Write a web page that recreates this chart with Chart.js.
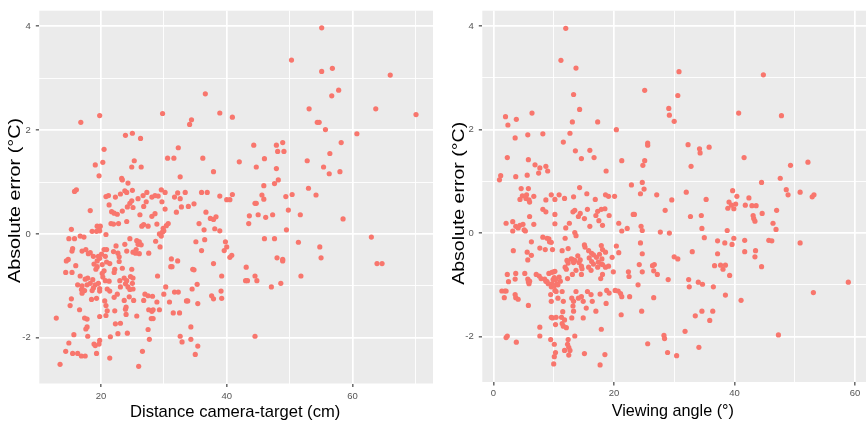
<!DOCTYPE html>
<html><head><meta charset="utf-8">
<script src="https://cdn.jsdelivr.net/npm/chart.js@4.4.1/dist/chart.umd.min.js"></script>
<style>
html,body{margin:0;padding:0;background:#fff;overflow:hidden;width:866px;height:423px;}
canvas{position:absolute;top:0;}
</style></head><body>
<canvas id="left" width="437" height="423" style="left:0"></canvas>
<canvas id="right" width="432" height="423" style="left:437px"></canvas>
<script>
// Left panel: [distance camera-target (cm), absolute error (°C)]
const distanceVsError = [
[16.8,2.15],[19.8,2.28],[20.5,1.63],[19.1,1.33],[20.3,1.38],[19.7,1.12],[23.9,1.90],[25.0,1.94],[26.3,1.84],[25.3,1.41],[24.9,1.29],[26.4,1.29],[23.3,1.07],[23.4,1.04],[24.3,0.98],[29.8,2.32],[30.6,1.46],[31.6,1.46],[32.3,1.66],[32.6,1.10],[34.1,2.11],[34.4,2.20],[36.6,2.70],[36.2,1.46],[37.9,1.20],[38.9,2.33],[40.9,2.25],[42.0,1.39],[15.8,0.82],[16.1,0.85],[23.8,0.83],[25.0,0.84],[29.6,0.85],
[55.1,3.97],[50.3,3.35],[55.1,3.13],[56.8,3.19],[66.0,3.06],[57.8,2.77],[56.7,2.66],[53.1,2.41],[63.7,2.41],[70.1,2.30],[54.4,2.15],[54.7,2.15],[55.7,2.01],[60.7,1.93],[44.3,1.71],[47.9,1.71],[48.9,1.76],[48.1,1.59],[49.1,1.59],[58.2,1.76],[56.4,1.55],[46.0,1.45],[44.7,1.29],[47.9,1.26],[52.8,1.41],[55.4,1.29],[56.3,1.16],[58.0,1.20],[45.9,0.93],[47.6,0.97],[48.2,1.04],[53.0,0.88],[45.6,0.75],[45.9,0.67],[49.4,0.72],[50.4,0.76],[54.2,0.75],
[40.9,0.76],[40.5,0.66],[44.5,0.59],[44.7,0.59],[43.6,0.35],[45.0,0.37],[46.2,0.32],[47.3,0.37],[49.8,0.46],[51.7,0.37],[43.5,0.20],[58.5,0.29],[49.5,0.08],[46.0,-0.09],[47.6,-0.09],[51.4,-0.16],[63.0,-0.06],[54.8,-0.25],[55.0,-0.46],[40.8,-0.41],[40.5,-0.45],[48.0,-0.46],[48.9,-0.49],[48.9,-0.52],[43.1,-0.64],[63.9,-0.57],[64.7,-0.57],[44.5,-0.81],[43.0,-0.90],[43.3,-0.90],[44.8,-0.90],[51.8,-0.81],[47.1,-1.02],[48.6,-0.95],[44.5,-1.97],
[20.8,0.72],[21.2,0.74],[22.3,0.71],[23.1,0.77],[24.1,0.80],[24.9,0.64],[25.9,0.68],[26.7,0.74],[27.3,0.80],[28.1,0.71],[28.6,0.74],[29.1,0.73],[29.7,0.62],[30.2,0.80],[31.7,0.71],[32.6,0.68],[32.2,0.79],[33.4,0.80],[36.0,0.80],[36.9,0.80],[38.9,0.73],[40.0,0.66],
[18.3,0.45],[21.3,0.56],[21.7,0.43],[22.1,0.40],[22.6,0.38],[23.4,0.44],[24.2,0.52],[24.6,0.59],[25.1,0.51],[26.2,0.37],[26.8,0.53],[27.2,0.62],[28.1,0.34],[28.6,0.39],[30.2,0.48],[32.0,0.42],[32.8,0.52],[33.9,0.53],[34.8,0.58],[36.7,0.42],[37.4,0.30],[37.9,0.28],[38.3,0.33],[21.6,0.20],[22.0,0.19],[22.8,0.20],[24.1,0.24],[26.5,0.15],[26.8,0.18],[27.5,0.15],[28.9,0.19],[29.9,0.11],[30.4,0.16],[30.7,0.20],[35.6,0.20],[36.4,0.08],[38.1,0.10],[38.9,0.06],
[15.3,0.09],[19.4,0.15],[19.3,0.05],[19.7,0.11],[19.9,0.15],[19.8,0.06],[20.8,-0.01],[18.6,0.05],[17.3,-0.06],[16.7,-0.04],[15.8,-0.09],[14.9,-0.09],[24.6,-0.09],[25.7,-0.13],[26.1,-0.15],[25.9,-0.20],[26.4,-0.21],[29.3,0.0],[29.6,-0.04],[29.8,0.04],[30.0,0.06],[35.1,-0.15],[36.5,-0.11],[39.8,-0.15],[40.0,-0.25],[39.6,-0.32],[36.0,-0.32],[37.9,-0.57],[39.2,-0.81],[34.6,-0.68],
[15.5,-0.28],[15.4,-0.33],[14.8,-0.49],[14.5,-0.52],[14.4,-0.74],[16.0,-0.61],[17.0,-0.33],[17.6,-0.30],[18.3,-0.36],[18.0,-0.38],[18.8,-0.43],[18.9,-0.58],[19.2,-0.68],[19.4,-0.52],[19.6,-0.43],[19.8,-0.47],[20.1,-0.39],[20.5,-0.30],[20.9,-0.30],[20.7,-0.43],[20.2,-0.59],[19.4,-0.63],[20.5,-0.71],[20.9,-0.54],[21.4,-0.57],[22.0,-0.34],[22.7,-0.37],[22.4,-0.23],[22.9,-0.44],[22.9,-0.53],[23.8,-0.20],[24.1,-0.33],[23.4,-0.66],[22.2,-0.68],[22.1,-0.74],[24.9,-0.68],[25.1,-0.35],[25.6,-0.30],[25.5,-0.37],[26.1,-0.38],[27.6,-0.37],[28.7,-0.14],[29.4,-0.25],[31.2,-0.48],[31.1,-0.63],[31.3,-0.63],[32.2,-0.52],[34.8,-0.69],
[15.4,-0.74],[16.7,-0.81],[16.3,-0.98],[16.9,-1.07],[17.0,-1.00],[17.5,-0.87],[17.8,-0.98],[17.9,-0.85],[18.3,-0.95],[18.7,-0.88],[18.8,-1.04],[19.1,-0.98],[19.6,-0.95],[19.8,-1.05],[20.2,-0.76],[20.3,-0.83],[19.8,-1.10],[19.3,-1.24],[18.5,-1.26],[18.6,-1.09],[17.4,-1.09],[17.0,-1.14],[15.3,-1.25],[15.1,-1.38],[20.7,-0.90],[21.3,-0.91],[21.0,-1.06],[21.4,-1.10],[20.6,-1.29],[20.8,-1.38],[22.1,-1.22],[22.6,-1.16],[23.0,-0.90],[23.1,-1.02],[23.7,-0.85],[23.9,-0.96],[24.1,-0.90],[24.3,-1.02],[24.6,-1.07],[25.0,-0.95],[25.1,-1.06],[24.7,-0.82],[25.1,-0.85],[24.5,-1.21],[25.2,-1.28],[26.8,-1.28],[27.0,-1.16],[27.5,-1.19],[28.2,-1.20],[27.6,-1.46],[28.1,-1.49],[28.9,-1.31],[29.0,-0.81],[30.0,-1.16],[30.3,-1.02],[30.9,-1.31],[31.7,-1.12],[32.3,-1.12],[33.6,-1.29],[33.8,-1.29],[34.5,-1.06],[35.3,-0.97],[37.6,-1.19],[37.9,-1.25],[39.1,-1.10],[39.2,-1.24],[23.9,-1.45],
[12.9,-1.62],[13.5,-2.51],[14.4,-2.26],[14.9,-2.10],[15.5,-2.30],[15.7,-1.94],[16.6,-1.46],[16.3,-2.30],[16.9,-2.35],[17.5,-2.35],[17.4,-1.62],[17.8,-1.64],[17.6,-1.83],[17.8,-1.79],[17.9,-1.97],[18.9,-2.12],[19.3,-2.30],[19.1,-2.15],[19.7,-2.12],[19.8,-2.05],[19.8,-1.59],[20.8,-1.57],[21.0,-1.48],[21.4,-2.39],[21.5,-1.98],[22.2,-1.48],[22.3,-1.73],[22.7,-1.92],[23.1,-1.72],[23.7,-1.28],[24.0,-1.41],[24.0,-1.55],[24.2,-1.91],[25.7,-1.58],[26.0,-2.55],[26.6,-2.26],[27.5,-1.84],[27.7,-2.03],[28.0,-1.63],[28.3,-1.63],[28.3,-1.46],[29.3,-1.46],[31.5,-1.52],[32.5,-1.52],[32.6,-1.97],[32.9,-2.08],[34.3,-1.79],[34.3,-2.03],[35.0,-2.32],[35.4,-2.16],[35.4,-1.34]
];

// Right panel: [viewing angle (°), absolute error (°C)]
const angleVsError = [
[12.0,3.96],[11.2,3.34],[13.7,3.19],[13.3,2.68],[14.3,2.39],[13.1,2.15],[17.3,2.15],[2.0,2.25],[3.8,2.20],[2.4,2.09],[6.4,2.32],[8.2,1.92],[12.7,1.93],[11.6,1.76],[3.6,1.84],[5.7,1.90],[20.4,2.00],[13.6,1.59],[16.0,1.60],[14.6,1.44],[16.7,1.46],[2.3,1.46],[5.8,1.42],[6.9,1.32],[7.7,1.26],[8.7,1.29],[9.0,1.20],[7.5,1.16],[21.3,1.40],[18.7,1.20],[25.1,2.76],[25.6,1.74],[25.6,1.70],[25.1,1.40],[24.8,1.31],[1.2,1.11],[1.0,1.03],[3.7,1.09],[5.6,1.12],[4.6,0.86],[5.8,0.86],[14.3,0.88],[24.7,0.98],[22.9,0.93],[25.0,0.85],
[30.8,3.12],[44.8,3.06],[30.6,2.66],[29.1,2.41],[29.2,2.28],[30.0,2.16],[40.7,2.32],[47.8,2.27],[32.3,1.71],[34.2,1.63],[34.3,1.55],[35.8,1.66],[32.8,1.29],[41.6,1.46],[49.3,1.31],[52.2,1.37],[47.6,1.06],[44.5,0.98],[48.6,0.84],[48.9,0.74],[50.9,0.79],[24.4,0.76],[27.1,0.74],[32.0,0.79],[39.7,0.82],[40.4,0.71],[42.4,0.68],[35.3,0.65],[29.6,0.64],
[4.4,0.65],[4.8,0.72],[5.5,0.74],[5.4,0.67],[5.9,0.64],[6.0,0.60],[6.7,0.71],[8.7,0.64],[9.6,0.74],[10.2,0.65],[10.9,0.74],[11.8,0.67],[13.3,0.70],[15.5,0.76],[16.9,0.65],[18.6,0.74],[19.1,0.71],[20.1,0.71],
[6.0,0.32],[8.2,0.46],[8.7,0.41],[10.2,0.36],[13.2,0.41],[13.5,0.44],[14.4,0.38],[15.6,0.46],[15.1,0.28],[14.1,0.32],[17.0,0.34],[17.3,0.42],[17.9,0.46],[18.5,0.47],[17.5,0.24],[16.0,0.13],[18.1,0.15],[19.2,0.34],[3.2,0.22],[2.1,0.19],[3.7,0.13],[4.4,0.15],[4.1,0.10],[4.9,0.17],[5.1,0.06],[3.2,0.04],[5.3,0.04],[6.7,0.17],[10.2,0.18],[12.6,0.19],[13.5,0.01],[12.0,0.10],[20.8,0.19],[21.3,0.04],[22.2,0.09],[23.2,0.36],[23.4,0.36],
[13.7,-0.05],[6.3,-0.17],[8.2,-0.08],[8.9,-0.10],[9.2,-0.11],[9.3,-0.17],[9.6,-0.18],[8.6,-0.32],[7.7,-0.29],[9.8,-0.32],[11.4,-0.34],[11.9,-0.10],[12.4,-0.30],[15.1,-0.23],[15.2,-0.27],[15.8,-0.34],[14.0,-0.44],[16.3,-0.39],[16.6,-0.42],[17.6,-0.41],[17.9,-0.24],[18.1,-0.32],[18.6,-0.37],[18.0,-0.50],[17.9,-0.60],[19.7,-0.47],[19.9,-0.75],[20.4,-0.25],[20.8,-0.38],[24.4,-0.19],
[3.3,-0.34],[5.6,-0.37],[5.7,-0.52],[6.3,-0.43],[12.2,-0.53],[12.4,-0.58],[12.9,-0.50],[13.1,-0.51],[13.3,-0.57],[13.5,-0.53],[11.9,-0.66],[12.1,-0.70],[12.3,-0.88],[13.1,-0.80],[14.2,-0.57],[14.4,-0.52],[14.6,-0.64],[14.7,-0.69],[13.7,-0.72],[14.6,-0.80],[15.9,-0.48],[16.3,-0.55],[16.2,-0.72],[15.8,-0.66],[16.6,-0.60],[17.1,-0.47],[17.4,-0.56],[17.3,-0.66],[18.1,-0.61],[18.6,-0.66],[19.1,-0.64],[18.1,-0.80],[2.3,-0.80],[2.5,-0.94],[3.7,-0.78],[3.6,-0.89],[5.2,-0.78],[5.7,-0.89],[5.8,-0.94],[5.9,-0.98],[6.0,-0.93],[7.1,-0.80],[7.6,-0.83],[7.9,-0.88],[9.2,-0.78],[9.7,-0.76],[10.0,-0.75],[10.2,-0.74],[10.1,-0.86],[9.9,-0.90],[10.3,-0.90],[10.9,-0.85],[8.5,-0.89],[8.7,-0.93],[8.9,-0.94],[9.1,-0.98],[9.7,-0.98],[10.5,-0.98],[9.6,-1.04],[10.1,-1.02],[10.7,-1.00],[11.1,-0.93],[22.4,-0.75],[22.5,-0.84],[24.0,-1.00],
[1.4,-1.12],[1.9,-1.12],[2.1,-1.12],[1.8,-1.25],[3.6,-1.19],[3.7,-1.25],[4.1,-1.28],[5.8,-1.40],[10.2,-1.11],[10.4,-1.13],[9.5,-1.19],[9.6,-1.32],[10.7,-1.26],[11.4,-1.13],[11.6,-1.32],[13.0,-1.26],[13.7,-1.13],[14.1,-1.26],[13.3,-1.32],[14.6,-1.23],[14.9,-1.32],[16.2,-1.19],[16.4,-1.32],[17.7,-1.18],[18.8,-1.11],[19.2,-1.16],[20.2,-1.11],[20.7,-1.12],[21.1,-1.17],[21.3,-1.23],[22.6,-1.23],[18.7,-1.36],[15.4,-1.45],[15.6,-1.13],[17.0,-1.51],[17.8,-0.88],[11.5,-1.52],[13.2,-1.41],
[9.6,-1.63],[9.8,-1.64],[10.4,-1.63],[11.3,-1.63],[10.3,-1.77],[11.4,-1.75],[11.6,-1.80],[11.8,-1.68],[12.1,-1.83],[13.0,-1.64],[13.3,-1.51],[13.5,-1.99],[12.4,-2.06],[12.3,-2.15],[12.5,-2.21],[12.7,-2.27],[11.8,-2.27],[12.5,-2.36],[10.3,-2.31],[10.1,-2.39],[9.5,-2.06],[10.1,-2.15],[10.0,-2.53],[7.7,-1.82],[7.7,-1.99],[2.1,-2.02],[2.3,-1.99],[3.8,-2.11],[14.9,-1.64],[15.1,-2.33],[17.9,-1.86],[18.5,-2.35],[17.7,-2.55],[21.2,-1.58],
[39.1,0.60],[39.5,0.54],[40.2,0.56],[38.9,0.48],[39.9,0.47],[41.8,0.54],[42.9,0.53],[43.6,0.53],[43.1,0.34],[43.2,0.28],[43.4,0.23],[44.6,0.38],[47.0,0.44],[46.4,0.19],[46.9,0.07],[52.9,0.70],[53.2,0.74],[24.5,0.13],[24.7,0.05],[28.5,0.44],[32.7,0.32],[34.5,0.34],[34.6,0.09],[35.0,-0.09],[27.7,0.02],[29.2,0.00],[37.2,-0.15],[38.4,-0.19],[38.8,0.05],[39.9,-0.10],[39.6,-0.22],[41.7,-0.14],[41.7,-0.36],[43.5,-0.34],[43.4,-0.46],[45.7,-0.14],[46.2,-0.15],[50.9,-0.19],[24.7,-0.40],[33.0,-0.36],[37.2,-0.40],[30.0,-0.46],[30.6,-0.50],[24.2,-0.61],[26.4,-0.63],[26.7,-0.61],[26.6,-0.73],[27.2,-0.80],[24.7,-0.75],[36.7,-0.63],[37.7,-0.62],[38.5,-0.62],[38.1,-0.70],[39.2,-0.82],[44.5,-0.65],[29.0,-0.90],[32.4,-0.90],[32.5,-1.04],[34.0,-0.95],[34.7,-0.99],[36.5,-1.04],[38.5,-1.20],[41.1,-1.30],[26.6,-1.25],[58.9,-0.95],[53.1,-1.15],[24.6,-1.51],[33.5,-1.60],[34.6,-1.51],[36.4,-1.51],[35.9,-1.69],[31.8,-1.90],[28.3,-1.98],[28.4,-2.04],[25.6,-2.14],[28.9,-2.31],[30.4,-2.37],[34.1,-2.21],[47.3,-1.97]
];

const yMajorTicks = [-2, 0, 2, 4];
const yMinorTicks = [-1, 1, 3];
const distanceMajorTicks = [20, 40, 60];
const distanceMinorTicks = [30, 50, 70];
const angleMajorTicks = [0, 20, 40, 60];
const angleMinorTicks = [10, 30, 50];
const yTitle = 'Absolute error (°C)';
const distanceTitle = 'Distance camera-target (cm)';
const angleTitle = 'Viewing angle (°)';

const FONT = "'Liberation Sans', Arial, sans-serif";
Chart.defaults.font.family = FONT;

const panelBg = {
  id: 'panelBg',
  beforeDraw(chart) {
    const { ctx, chartArea: a } = chart;
    ctx.save();
    ctx.fillStyle = '#EBEBEB';
    ctx.fillRect(a.left, a.top, a.right - a.left, a.bottom - a.top);
    ctx.restore();
  }
};

// Axis titles drawn as canvas text (y title slightly stretched along its length, as in the source image)
const axisTitles = {
  id: 'axisTitles',
  afterDraw(chart, args, o) {
    const { ctx, chartArea: a } = chart;
    ctx.save();
    ctx.fillStyle = '#000000';
    ctx.textAlign = 'center';
    ctx.textBaseline = 'alphabetic';
    ctx.font = o.xSize + 'px ' + FONT;
    ctx.fillText(o.xText, (a.left + a.right) / 2 + o.xShift, o.xBaseline);
    ctx.font = o.ySize + 'px ' + FONT;
    const w = ctx.measureText(o.yText).width;
    ctx.translate(o.yBaseline, o.yCenter);
    ctx.rotate(-Math.PI / 2);
    ctx.scale(o.yLength / w, 1);
    ctx.fillText(o.yText, 0, 0);
    ctx.restore();
  }
};

function axis(major, minor, min, max, fitFn, pad) {
  return {
    type: 'linear', min: min, max: max,
    afterBuildTicks: s => { s.ticks = major.concat(minor).sort((a, b) => a - b).map(v => ({ value: v })); },
    afterFit: fitFn,
    border: { display: false },
    grid: {
      color: '#FFFFFF',
      lineWidth: c => major.includes(c.tick.value) ? 1.7 : 0.9,
      drawTicks: true,
      tickLength: 3.5,
      tickWidth: 1.1,
      tickColor: c => major.includes(c.tick.value) ? '#333333' : 'rgba(0,0,0,0)'
    },
    ticks: {
      autoSkip: false, maxRotation: 0, minRotation: 0,
      color: '#555555', font: { size: 9.5 }, padding: pad,
      callback: v => major.includes(v) ? String(v) : ''
    },
    title: { display: false }
  };
}

function makeChart(id, pts, o) {
  return new Chart(document.getElementById(id), {
    type: 'scatter',
    data: { datasets: [{
      data: pts.map(p => ({ x: p[0], y: p[1] })),
      backgroundColor: '#F8766D', borderWidth: 0,
      pointRadius: 2.6, pointHoverRadius: 2.6
    }] },
    options: {
      responsive: false, animation: false, devicePixelRatio: 1,
      layout: { padding: { top: 5, right: o.padRight, left: 0, bottom: 0 } },
      plugins: { legend: { display: false }, tooltip: { enabled: false }, axisTitles: o.titles },
      scales: {
        x: axis(o.xMajor, o.xMinor, o.xMin, o.xMax, s => { s.height = o.xAxisH; }, o.xPad),
        y: axis(yMajorTicks, yMinorTicks, -2.88, 4.30, s => { s.width = o.yAxisW; }, 5)
      }
    },
    plugins: [panelBg, axisTitles]
  });
}

makeChart('left', distanceVsError, {
  xMajor: distanceMajorTicks, xMinor: distanceMinorTicks, xMin: 10.2, xMax: 72.8,
  padRight: 4, xAxisH: 39.5, yAxisW: 39.3, xPad: 3.5,
  titles: { xText: distanceTitle, xSize: 16.6, xBaseline: 417.3, xShift: -1,
            yText: yTitle, ySize: 17, yBaseline: 19.5, yCenter: 200.5, yLength: 165 }
});
makeChart('right', angleVsError, {
  xMajor: angleMajorTicks, xMinor: angleMinorTicks, xMin: -1.85, xMax: 61.9,
  padRight: 0, xAxisH: 41, yAxisW: 45.3, xPad: 2.5,
  titles: { xText: angleTitle, xSize: 16.2, xBaseline: 416, xShift: -1.5,
            yText: yTitle, ySize: 17, yBaseline: 27.3, yCenter: 203.3, yLength: 163 }
});
</script>
</body></html>
